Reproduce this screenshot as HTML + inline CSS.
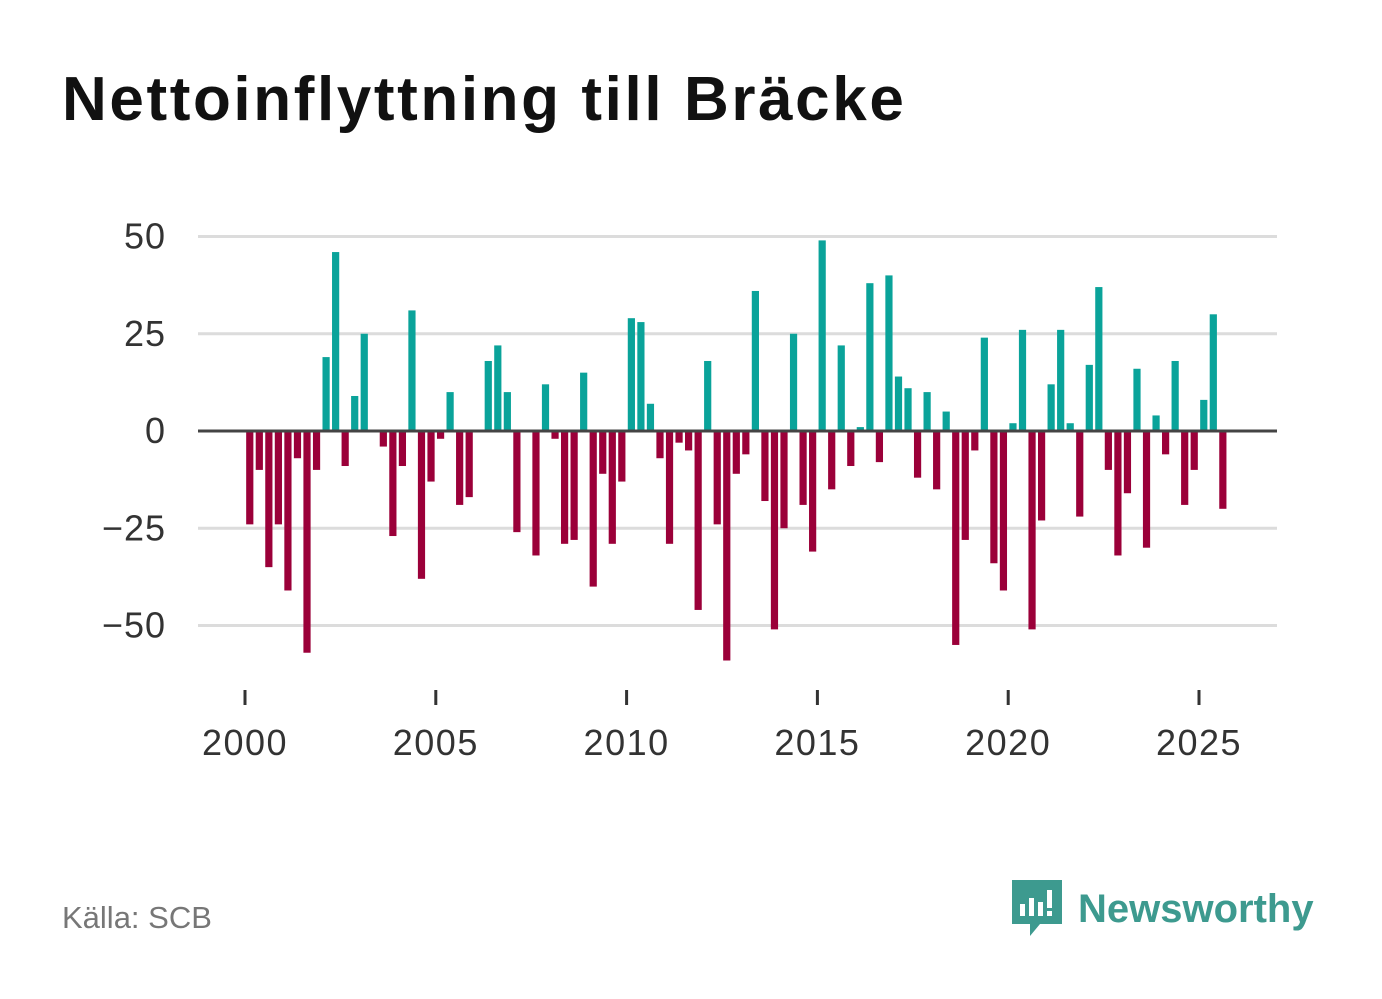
<!DOCTYPE html>
<html><head><meta charset="utf-8">
<style>
body{margin:0;width:1382px;height:999px;background:#fff;font-family:"Liberation Sans",sans-serif;overflow:hidden}
#title{position:absolute;left:62px;top:64px;font-size:62px;font-weight:bold;color:#111;margin:0;letter-spacing:2.6px;white-space:nowrap}
#source{position:absolute;left:62px;top:900px;font-size:31px;color:#777}
#logo{position:absolute;left:1010px;top:878px;display:flex;align-items:center}
#logo span{font-size:40px;font-weight:bold;color:#3d9a8f;margin-left:10px}
svg text{font-family:"Liberation Sans",sans-serif}
</style></head><body>
<h1 id="title">Nettoinflyttning till Bräcke</h1>
<svg id="chart" width="1382" height="999" style="position:absolute;left:0;top:0"></svg>
<div id="source">Källa: SCB</div>
<div id="logo">
<svg width="58" height="62" viewBox="0 0 58 62"><path d="M2 2h50v44H30l-10 12V46H2z" fill="#3d9a8f"/><rect x="10" y="26" width="5" height="12" fill="#fff"/><rect x="19" y="20" width="5" height="18" fill="#fff"/><rect x="28" y="24" width="5" height="14" fill="#fff"/><rect x="37" y="12" width="5" height="18" fill="#fff"/><rect x="37" y="33" width="5" height="5" fill="#fff"/></svg>
<span>Newsworthy</span></div>
<script>
const startYear = 2000;
const values = [-24,-10,-35,-24,-41,-7,-57,-10,19,46,-9,9,25,0,-4,-27,-9,31,-38,-13,-2,10,-19,-17,0,18,22,10,-26,0,-32,12,-2,-29,-28,15,-40,-11,-29,-13,29,28,7,-7,-29,-3,-5,-46,18,-24,-59,-11,-6,36,-18,-51,-25,25,-19,-31,49,-15,22,-9,1,38,-8,40,14,11,-12,10,-15,5,-55,-28,-5,24,-34,-41,2,26,-51,-23,12,26,2,-22,17,37,-10,-32,-16,16,-30,4,-6,18,-19,-10,8,30,-20];
const yTicks = [50,25,0,-25,-50];
const yTickLabels = ["50","25","0","\u221225","\u221250"];
const xTicks = [2000,2005,2010,2015,2020,2025];

const svg = document.getElementById('chart');
const NS = 'http://www.w3.org/2000/svg';
const y = v => 431 - v * 3.89;
const x = yr => 245 + (yr - 2000) * 38.16;
function mk(tag, attrs){const e=document.createElementNS(NS,tag);for(const k in attrs)e.setAttribute(k,attrs[k]);svg.appendChild(e);return e;}

yTicks.forEach((t,i)=>{
  if(t!==0){
    const g = mk('line',{x1:198,x2:1277,y1:y(t),y2:y(t),stroke:'#dcdcdc','stroke-width':3});
    
    
  }
  const tx = mk('text',{x:166,y:y(t)+12,'text-anchor':'end','font-size':36,fill:'#333','letter-spacing':1});
  tx.textContent = yTickLabels[i];
  
  
});

values.forEach((v,i)=>{
  const cx = x(startYear + (i+0.5)/4);
  const r = mk('rect',{x:cx-3.6,width:7.2,y:Math.min(y(v),y(0)),height:Math.abs(y(v)-y(0)),fill:v>=0?'#0aa39a':'#9b0039'});
  
  
});

const z = mk('line',{x1:198,x2:1277,y1:y(0),y2:y(0),stroke:'#444','stroke-width':3});



xTicks.forEach(t=>{
  const l = mk('line',{x1:x(t),x2:x(t),y1:690,y2:705,stroke:'#333','stroke-width':3});
  
  
  const tx = mk('text',{x:x(t),y:755,'text-anchor':'middle','font-size':36,fill:'#333','letter-spacing':1.5});
  tx.textContent = t;
  
  
});
</script>
</body></html>
